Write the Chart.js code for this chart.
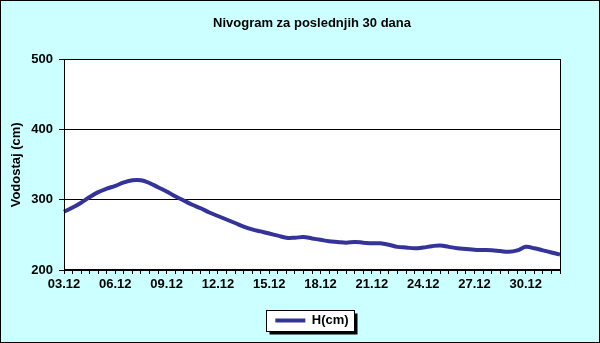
<!DOCTYPE html>
<html>
<head>
<meta charset="utf-8">
<script src="https://cdn.jsdelivr.net/npm/chart.js@4.4.1/dist/chart.umd.min.js"></script>
<style>
  html, body { margin: 0; padding: 0; background: #fff; }
  #wrap { width: 600px; height: 343px; }
</style>
</head>
<body>
<div id="wrap"><canvas id="nivo" width="600" height="343"></canvas></div>
<script>
// half-day readings, 03.12 - 01.01
var categories = [
  '03.12 00h', '03.12 12h', '04.12 00h', '04.12 12h', '05.12 00h', '05.12 12h',
  '06.12 00h', '06.12 12h', '07.12 00h', '07.12 12h', '08.12 00h', '08.12 12h',
  '09.12 00h', '09.12 12h', '10.12 00h', '10.12 12h', '11.12 00h', '11.12 12h',
  '12.12 00h', '12.12 12h', '13.12 00h', '13.12 12h', '14.12 00h', '14.12 12h',
  '15.12 00h', '15.12 12h', '16.12 00h', '16.12 12h', '17.12 00h', '17.12 12h',
  '18.12 00h', '18.12 12h', '19.12 00h', '19.12 12h', '20.12 00h', '20.12 12h',
  '21.12 00h', '21.12 12h', '22.12 00h', '22.12 12h', '23.12 00h', '23.12 12h',
  '24.12 00h', '24.12 12h', '25.12 00h', '25.12 12h', '26.12 00h', '26.12 12h',
  '27.12 00h', '27.12 12h', '28.12 00h', '28.12 12h', '29.12 00h', '29.12 12h',
  '30.12 00h', '30.12 12h', '31.12 00h', '31.12 12h', '01.01 00h'
];

var levels = [
  283, 289, 296, 304, 311, 316, 320, 325, 328, 328,
  324, 318, 312, 305, 299, 293, 288, 282, 277, 272,
  267, 262, 258, 255, 252, 249, 246, 246, 247, 245,
  243, 241, 240, 239, 240, 239, 238, 238, 236, 233,
  232, 231, 232, 234, 235, 233, 231, 230, 229, 228.5,
  228, 227, 226, 228, 233, 231, 228, 225, 222
];

var tickLabels = ['03.12', '06.12', '09.12', '12.12', '15.12', '18.12', '21.12', '24.12', '27.12', '30.12'];
var yTicks = [200, 300, 400, 500];

var font = 'Arial, "Liberation Sans", sans-serif';

// background, plot area and legend box
var frame = {
  id: 'frame',
  beforeDraw: function(chart) {
    var c = chart.ctx, a = chart.chartArea;
    c.save();
    c.fillStyle = '#ccffff';
    c.fillRect(0, 0, chart.width, chart.height);
    c.strokeStyle = '#000';
    c.lineWidth = 1;
    c.strokeRect(0.5, 0.5, chart.width - 1, chart.height - 1);
    c.fillStyle = '#fff';
    c.fillRect(a.left, a.top, a.right - a.left, a.bottom - a.top);

    var hb = chart.legend.legendHitBoxes[0];
    if (hb) {
      var x = Math.round(hb.left - 9) + 0.5, y = Math.round(hb.top - 4) + 0.5;
      var w = Math.round(hb.width + 15), h = Math.round(hb.height + 8);
      c.fillStyle = '#000';
      c.fillRect(x + 3, y + 3, w, h);
      c.fillStyle = '#fff';
      c.fillRect(x, y, w, h);
      c.strokeRect(x, y, w, h);
    }
    c.restore();
  },
  afterDraw: function(chart) {
    var c = chart.ctx, a = chart.chartArea;
    c.save();
    c.strokeStyle = '#000';
    c.lineWidth = 1;
    c.strokeRect(Math.round(a.left) + 0.5, Math.round(a.top) - 0.5, Math.round(a.right - a.left), Math.round(a.bottom - a.top));
    c.restore();
  }
};

var ctx = document.getElementById('nivo').getContext('2d');

var nivoChart = new Chart(ctx, {
  type: 'line',
  data: {
    labels: categories,
    datasets: [{
      label: 'H(cm)',
      data: levels,
      borderColor: '#333399',
      backgroundColor: '#333399',
      borderWidth: 4,
      pointRadius: 0,
      tension: 0.4,
      fill: false
    }]
  },
  options: {
    responsive: false,
    animation: false,
    layout: { padding: { left: 0, right: 40, top: 0, bottom: 6 } },
    scales: {
      x: {
        offset: false,
        grid: { drawOnChartArea: false, color: '#000', tickLength: 4 },
        border: { color: '#000' },
        ticks: {
          autoSkip: false,
          maxRotation: 0,
          minRotation: 0,
          padding: 3,
          color: '#000',
          font: { family: font, size: 13, weight: 'bold' },
          callback: function(val, i) {
            var lab = categories[i];
            var day = lab.slice(0, 5);
            return (lab.slice(6) === '00h' && tickLabels.indexOf(day) >= 0) ? day : '';
          }
        },
        afterFit: function(s) { s.height = 38; }
      },
      y: {
        min: 200,
        max: 500,
        afterBuildTicks: function(s) { s.ticks = yTicks.map(function(v) { return { value: v }; }); },
        grid: { color: '#000', tickLength: 5 },
        border: { color: '#000' },
        ticks: {
          padding: 6,
          color: '#000',
          font: { family: font, size: 13, weight: 'bold' }
        },
        title: {
          display: true,
          text: 'Vodostaj (cm)',
          color: '#000',
          font: { family: font, size: 13, weight: 'bold' },
          padding: { top: 9, bottom: 0 }
        },
        afterFit: function(s) { s.width = 64; }
      }
    },
    plugins: {
      title: {
        display: true,
        text: 'Nivogram za poslednjih 30 dana',
        color: '#000',
        fullSize: false,
        font: { family: font, size: 13, weight: 'bold' },
        padding: { top: 16, bottom: 28 }
      },
      legend: {
        position: 'bottom',
        fullSize: false,
        labels: {
          usePointStyle: true,
          pointStyle: 'line',
          pointStyleWidth: 30,
          color: '#000',
          padding: 6,
          font: { family: font, size: 13, weight: 'bold' }
        }
      },
      tooltip: { enabled: false }
    }
  },
  plugins: [frame]
});
</script>
</body>
</html>
